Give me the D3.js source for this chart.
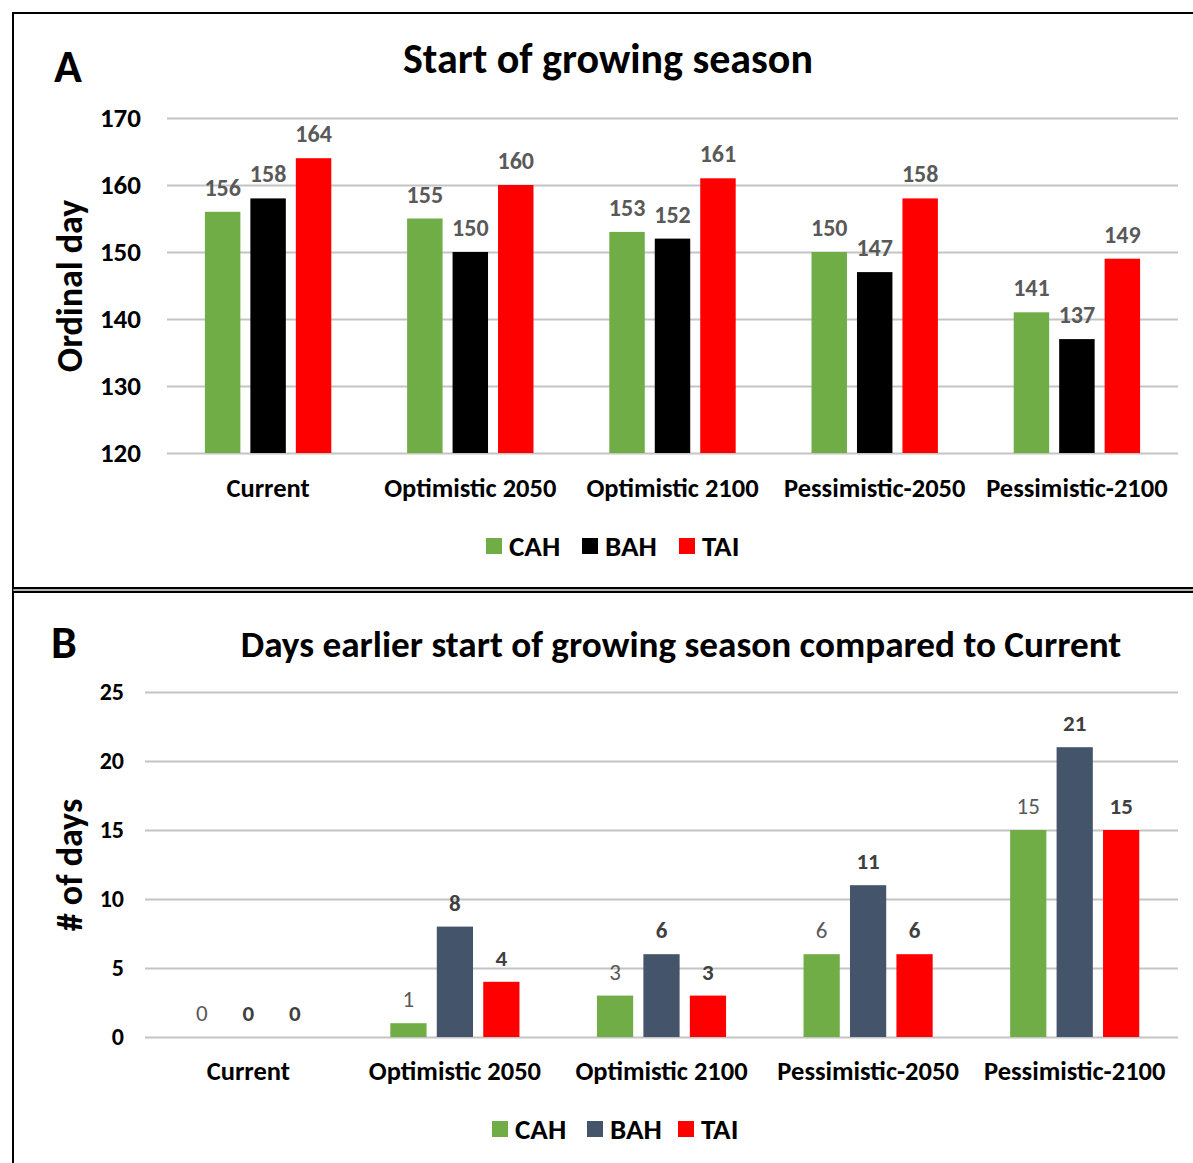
<!DOCTYPE html>
<html>
<head>
<meta charset="utf-8">
<script src="https://cdn.jsdelivr.net/npm/d3@7"></script>
<style>
  html, body { margin: 0; padding: 0; background: #fff; }
  svg { display: block; }
  text { font-family: Carlito, Calibri, Lato, sans-serif; }
</style>
</head>
<body>
<script>
// Scenario categories and series
const categories = ["Current", "Optimistic 2050", "Optimistic 2100", "Pessimistic-2050", "Pessimistic-2100"];
const seriesNames = ["CAH", "BAH", "TAI"];

// Panel A: ordinal day of start of growing season
const startCAH = [156, 155, 153, 150, 141];
const startBAH = [158, 150, 152, 147, 137];
const startTAI = [164, 160, 161, 158, 149];
const startTicks = [120, 130, 140, 150, 160, 170];

// Panel B: days earlier than Current
const earlierCAH = [0, 1, 3, 6, 15];
const earlierBAH = [0, 8, 6, 11, 21];
const earlierTAI = [0, 4, 3, 6, 15];
const earlierTicks = [0, 5, 10, 15, 20, 25];

const W = 1193, H = 1163;
const svg = d3.select("body").append("svg").attr("width", W).attr("height", H);

// Panel frames (double rule between the two panels)
const frame = svg.append("g").attr("fill", "none").attr("stroke", "#000").attr("stroke-width", 2);
frame.append("path").attr("d", `M13,1163V13H1193`);
frame.append("path").attr("d", `M13,13V588H1193`);
svg.append("line").attr("x1", 13).attr("x2", W).attr("y1", 590).attr("y2", 590)
  .attr("stroke", "#9a9a9a").attr("stroke-width", 1.5);
frame.append("path").attr("d", `M13,1163V592H1193`);

function drawPanel(cfg) {
  const g = svg.append("g");
  const series = cfg.values.map((v, i) => ({ name: seriesNames[i], values: v, color: cfg.colors[i] }));

  const x0 = d3.scaleBand().domain(categories).range([cfg.left, cfg.right])
    .paddingInner(0.375).paddingOuter(0.1875);
  const x1 = d3.scaleBand().domain(seriesNames).range([0, x0.bandwidth()]).paddingInner(0.22);
  const y = d3.scaleLinear().domain(d3.extent(cfg.ticks)).range([cfg.bottom, cfg.top]);

  // Gridlines and value axis labels
  const yAxis = d3.axisLeft(y).tickValues(cfg.ticks).tickSize(-(cfg.right - cfg.left)).tickPadding(cfg.tickPad);
  const ya = g.append("g").attr("transform", `translate(${cfg.left},0)`).call(yAxis);
  ya.select(".domain").remove();
  ya.selectAll(".tick line").attr("stroke", "#c4c4c4").attr("stroke-width", 2);
  ya.selectAll(".tick text").attr("fill", "#000").attr("font-weight", 700)
    .attr("font-size", cfg.tickFont).style("font-family", "Carlito, Calibri, Lato, sans-serif");

  // Bars
  const groups = g.selectAll(".grp").data(categories).join("g")
    .attr("transform", d => `translate(${x0(d)},0)`);
  groups.selectAll("rect").data((c, ci) => series.map(s => ({ s, v: s.values[ci] })))
    .join("rect")
    .attr("x", d => x1(d.s.name))
    .attr("width", x1.bandwidth())
    .attr("y", d => y(d.v))
    .attr("height", d => y(y.domain()[0]) - y(d.v))
    .attr("fill", d => d.s.color);

  // Value labels
  groups.selectAll("text.val").data((c, ci) => series.map((s, si) => ({ s, si, v: s.values[ci] })))
    .join("text").attr("class", "val")
    .attr("x", d => x1(d.s.name) + x1.bandwidth() / 2)
    .attr("y", d => y(d.v) - 16)
    .attr("text-anchor", "middle")
    .attr("font-size", cfg.valFont)
    .attr("font-weight", d => cfg.valWeights[d.si])
    .attr("fill", d => cfg.valColors[d.si])
    .text(d => d.v);

  // Category labels (baseline gridline doubles as the axis line)
  g.selectAll("text.cat").data(categories).join("text").attr("class", "cat")
    .attr("x", d => x0(d) + x0.bandwidth() / 2)
    .attr("y", cfg.catY)
    .attr("text-anchor", "middle")
    .attr("font-size", 26.5).attr("font-weight", 700).attr("fill", "#000")
    .text(d => d);

  // Titles
  g.append("text").attr("x", cfg.titleX).attr("y", cfg.titleY).attr("text-anchor", "middle")
    .attr("font-size", cfg.titleFont).attr("font-weight", 700).attr("fill", "#000").text(cfg.title);
  g.append("text").attr("x", cfg.letterX).attr("y", cfg.letterY)
    .attr("font-size", 46).attr("font-weight", 700).attr("fill", "#000").text(cfg.letter);
  g.append("text").attr("transform", `translate(${cfg.yTitleX},${cfg.yTitleY}) rotate(-90)`)
    .attr("text-anchor", "middle").attr("font-size", 36).attr("font-weight", 700).attr("fill", "#000")
    .text(cfg.yTitle);

  // Legend
  const lg = g.append("g").attr("transform", `translate(0,${cfg.legendY})`);
  series.forEach((s, i) => {
    lg.append("rect").attr("x", cfg.legendX[i]).attr("y", -8).attr("width", 16).attr("height", 16).attr("fill", s.color);
    lg.append("text").attr("x", cfg.legendX[i] + 23).attr("y", 10)
      .attr("font-size", 29).attr("font-weight", 700).attr("fill", "#000").text(s.name);
  });
}

drawPanel({
  letter: "A", letterX: 54, letterY: 82,
  title: "Start of growing season", titleX: 608, titleY: 73, titleFont: 42,
  yTitle: "Ordinal day", yTitleX: 82, yTitleY: 286,
  values: [startCAH, startBAH, startTAI],
  colors: ["#70AD47", "#000000", "#FF0000"],
  ticks: startTicks, tickFont: 27, tickPad: 26,
  left: 167, right: 1178, top: 118, bottom: 453,
  valFont: 24, valWeights: [700, 700, 700], valColors: ["#595959", "#595959", "#595959"],
  catY: 497, legendY: 546, legendX: [486, 582, 679]
});

drawPanel({
  letter: "B", letterX: 51, letterY: 658,
  title: "Days earlier start of growing season compared to Current", titleX: 681, titleY: 657, titleFont: 37.2,
  yTitle: "# of days", yTitleX: 82, yTitleY: 865,
  values: [earlierCAH, earlierBAH, earlierTAI],
  colors: ["#70AD47", "#44546A", "#FF0000"],
  ticks: earlierTicks, tickFont: 24, tickPad: 21,
  left: 145, right: 1178, top: 692, bottom: 1037,
  valFont: 23, valWeights: [400, 700, 700], valColors: ["#595959", "#404040", "#404040"],
  catY: 1080, legendY: 1129, legendX: [492, 587, 678]
});
</script>
</body>
</html>
